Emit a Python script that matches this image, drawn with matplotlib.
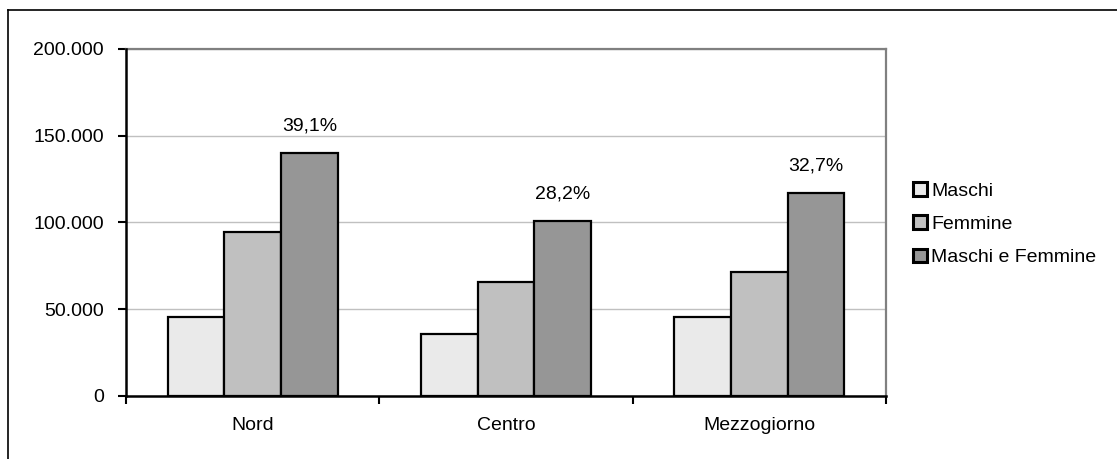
import matplotlib
matplotlib.use("Agg")
import matplotlib.pyplot as plt
import numpy as np
from matplotlib.ticker import FuncFormatter, FixedLocator
from matplotlib.lines import Line2D

plt.rcParams['font.family'] = ['Liberation Sans', 'DejaVu Sans']

# dati per ripartizione
regioni = ['Nord', 'Centro', 'Mezzogiorno']
maschi = [45700, 35600, 45600]
femmine = [94500, 65700, 71400]
totale = [140100, 101000, 117000]
perc = ['39,1%', '28,2%', '32,7%']

serie = ['Maschi', 'Femmine', 'Maschi e Femmine']
colori = ['#eaeaea', '#c0c0c0', '#969696']

fs = 14

fig = plt.figure(figsize=(11.17, 4.59), dpi=100)
ax = fig.add_axes([126 / 1117, 1 - 396 / 459, 760 / 1117, 347 / 459])

x = np.arange(len(regioni))
w = 0.224
for i, (vals, nome, col) in enumerate(zip([maschi, femmine, totale], serie, colori)):
    ax.bar(x + (i - 1) * w, vals, w, color=col, edgecolor='black',
           linewidth=1.6, label=nome, zorder=3)

# etichette percentuali sopra le barre del totale
for xi, v, p in zip(x, totale, perc):
    ax.annotate(p, (xi + w, v), xytext=(0, 13), textcoords='offset points',
                ha='center', va='bottom', fontsize=fs)

ax.set_xlim(-0.5, 2.5)
ax.set_ylim(0, 200000)
ax.set_yticks([0, 50000, 100000, 150000, 200000])
ax.yaxis.set_major_formatter(FuncFormatter(lambda v, _: f'{int(v):,}'.replace(',', '.')))
ax.yaxis.grid(True, color='#c0c0c0', linewidth=1, zorder=0)

ax.xaxis.set_major_locator(FixedLocator([-0.5, 0.5, 1.5, 2.5]))
ax.xaxis.set_minor_locator(FixedLocator(x))
ax.set_xticklabels([])
ax.set_xticklabels(regioni, minor=True)
ax.tick_params(axis='x', which='major', length=6, width=1.5, direction='out')
ax.tick_params(axis='x', which='minor', length=0, pad=15, labelsize=fs)
ax.tick_params(axis='y', length=6, width=1.5, direction='out', pad=10, labelsize=fs)

for s in ['left', 'bottom']:
    ax.spines[s].set_linewidth(1.8)
    ax.spines[s].set_color('black')
for s in ['top', 'right']:
    ax.spines[s].set_linewidth(1.6)
    ax.spines[s].set_color('#808080')
ax.spines['left'].set_zorder(4)
ax.spines['bottom'].set_zorder(4)

leg = ax.legend(loc='upper left', bbox_to_anchor=(913 / 1117, 1 - 182 / 459),
                bbox_transform=fig.transFigure, frameon=False, fontsize=fs,
                handlelength=0.72, handleheight=0.72, handletextpad=0.2,
                labelspacing=0.8, borderpad=0, borderaxespad=0)
for h in leg.legend_handles:
    h.set_linewidth(2.2)

# cornice esterna del grafico
fig.add_artist(Line2D([8 / 1117, 1.0], [1 - 9.5 / 459] * 2, transform=fig.transFigure,
                      color='black', linewidth=1.2))
fig.add_artist(Line2D([8 / 1117] * 2, [0, 1 - 9.5 / 459], transform=fig.transFigure,
                      color='black', linewidth=1.2))

fig.savefig('out.png', dpi=100)
